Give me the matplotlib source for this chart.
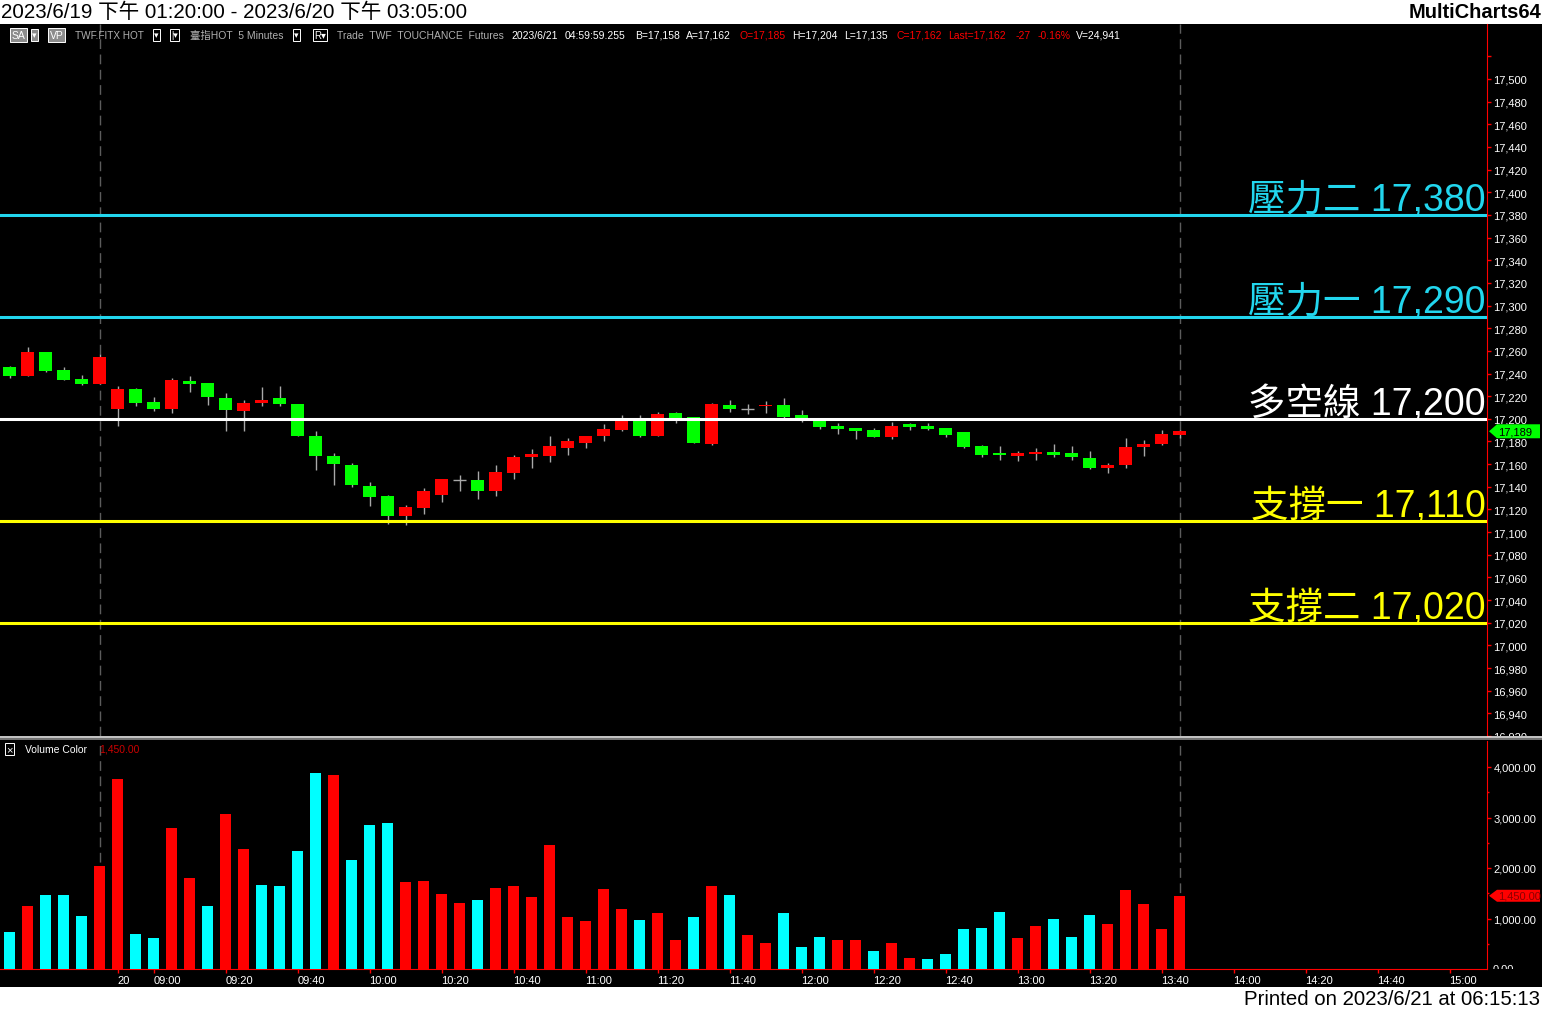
import matplotlib
matplotlib.use("Agg")
import matplotlib.pyplot as plt
from matplotlib.patches import Rectangle, Polygon
from matplotlib.lines import Line2D
from matplotlib.ticker import FuncFormatter
from matplotlib.transforms import Bbox, TransformedBbox
import numpy as np

plt.rcParams['font.family'] = ['Liberation Sans', 'Noto Sans CJK TC', 'DejaVu Sans']

# ---- 台指期 5 分K: 2023/6/19 13:20 ~ 2023/6/20 13:45 ----
opens = [17246, 17238, 17259, 17243, 17235, 17231, 17209, 17226, 17215, 17209,
         17233, 17232, 17218, 17207, 17214, 17218, 17213, 17185, 17167, 17159,
         17141, 17132, 17114, 17121, 17133, 17146, 17146, 17136, 17152, 17166,
         17167, 17174, 17179, 17185, 17190, 17199, 17185, 17205, 17202, 17178,
         17212, 17209, 17211, 17212, 17203, 17199, 17194, 17192, 17190, 17184,
         17195, 17194, 17192, 17188, 17176, 17170, 17167, 17169, 17171, 17170,
         17165, 17157, 17159, 17175, 17178, 17186]
highs = [17247, 17263, 17259, 17246, 17239, 17257, 17229, 17227, 17219, 17236,
         17238, 17232, 17223, 17217, 17228, 17229, 17213, 17189, 17170, 17161,
         17144, 17133, 17124, 17139, 17147, 17150, 17154, 17159, 17168, 17173,
         17185, 17183, 17185, 17195, 17203, 17203, 17206, 17206, 17202, 17214,
         17217, 17213, 17216, 17218, 17208, 17201, 17196, 17192, 17192, 17197,
         17196, 17196, 17192, 17188, 17177, 17176, 17172, 17174, 17178, 17176,
         17172, 17161, 17183, 17181, 17190, 17190]
lows = [17236, 17238, 17241, 17234, 17230, 17231, 17194, 17211, 17207, 17205,
        17224, 17212, 17189, 17189, 17211, 17211, 17185, 17155, 17142, 17140,
        17123, 17107, 17106, 17116, 17127, 17136, 17129, 17132, 17147, 17157,
        17162, 17168, 17174, 17180, 17189, 17184, 17185, 17196, 17179, 17177,
        17206, 17204, 17205, 17201, 17197, 17191, 17187, 17182, 17184, 17182,
        17190, 17190, 17184, 17174, 17166, 17164, 17163, 17164, 17166, 17164,
        17156, 17152, 17157, 17167, 17177, 17183]
closes = [17238, 17259, 17242, 17234, 17231, 17255, 17226, 17214, 17209, 17234,
          17231, 17219, 17208, 17214, 17217, 17213, 17185, 17167, 17160, 17142,
          17131, 17114, 17122, 17136, 17147, 17146, 17136, 17153, 17166, 17169,
          17176, 17180, 17185, 17191, 17199, 17185, 17204, 17201, 17179, 17213,
          17209, 17209, 17212, 17202, 17201, 17193, 17191, 17189, 17184, 17194,
          17193, 17191, 17186, 17175, 17168, 17168, 17170, 17171, 17168, 17166,
          17157, 17159, 17175, 17178, 17187, 17189]

volumes = [727, 1242, 1459, 1459, 1044, 2034, 3756, 687, 608, 2786,
           1796, 1242, 3063, 2370, 1657, 1638, 2331, 3875, 3836, 2152,
           2846, 2885, 1717, 1737, 1479, 1301, 1360, 1598, 1638, 1420,
           2450, 1024, 945, 1578, 1182, 964, 1103, 568, 1024, 1638,
           1459, 667, 509, 1103, 430, 628, 568, 568, 350, 509,
           212, 192, 291, 786, 806, 1123, 608, 846, 984, 628,
           1063, 885, 1558, 1281, 786, 1450]
# 1 = 紅 (外盤), 0 = 青 (內盤)
vol_up = [0, 1, 0, 0, 0, 1, 1, 0, 0, 1, 1, 0, 1, 1, 0, 0, 0, 0, 1, 0,
          0, 0, 1, 1, 1, 1, 0, 1, 1, 1, 1, 1, 1, 1, 1, 0, 1, 1, 0, 1,
          0, 1, 1, 0, 0, 0, 1, 1, 0, 1, 1, 0, 0, 0, 0, 0, 1, 1, 0, 0,
          0, 1, 1, 1, 1, 1]

# x 軸: bar index -> label
tick_bars = [6, 8, 12, 16, 20, 24, 28, 32, 36, 40, 44, 48, 52, 56, 60, 64,
             68, 72, 76, 80]
tick_labels = ['20', '09:00', '09:20', '09:40', '10:00', '10:20', '10:40',
               '11:00', '11:20', '11:40', '12:00', '12:20', '12:40', '13:00',
               '13:20', '13:40', '14:00', '14:20', '14:40', '15:00']
session_end_bars = [5, 65]

# 壓力 / 支撐
levels = [17380, 17290, 17200, 17110, 17020]
level_names = ['壓力二', '壓力一', '多空線', '支撐一', '支撐二']
level_colors = ['#22d6ee', '#22d6ee', '#ffffff', '#ffff00', '#ffff00']

W, H = 1542, 1012


def fx(px):
    return px / W


def fy(py):
    return 1 - py / H


fig = plt.figure(figsize=(W / 100, H / 100), dpi=100, facecolor='black')

# white header / footer strips
fig.add_artist(Rectangle((0, fy(25)), 1, 25 / H, transform=fig.transFigure,
                         fc='white', ec='none', zorder=0))
fig.add_artist(Rectangle((0, 0), 1, 24 / H, transform=fig.transFigure,
                         fc='white', ec='none', zorder=0))
fig.text(fx(1), fy(12.5), '2023/6/19 下午 01:20:00 - 2023/6/20 下午 03:05:00',
         fontsize=14.8, color='black', va='center')
fig.text(fx(1541), fy(12.5), 'MultiCharts64', fontsize=14.5, fontweight='bold',
         color='black', va='center', ha='right')
fig.text(fx(1540), fy(1000), 'Printed on 2023/6/21 at 06:15:13', fontsize=14.7,
         color='black', va='center', ha='right')

x = np.arange(len(closes))
x_lo, x_hi = -0.53, 82.08
ppu = 340 / 300  # pixels per point

# ---- price panel ----
ax = fig.add_axes([0, fy(737), fx(1487), fy(25) - fy(737)])
ax.set_facecolor('black')
ax.set_xlim(x_lo, x_hi)
ax.set_ylim(17200 - (737 - 420) / ppu, 17200 + (420 - 25) / ppu)

for b in session_end_bars:
    ax.axvline(b, color='#5c5c5c', lw=1, ls=(0, (7, 4)), zorder=1)

wick_c = '#a8a8a8'
ax.vlines(x, lows, highs, color=wick_c, lw=1, zorder=2)
for i in range(len(closes)):
    o, c = opens[i], closes[i]
    if c == o:
        ax.hlines(c, i - 0.36, i + 0.36, color=wick_c, lw=1, zorder=3)
        continue
    col = '#ff0000' if c > o else '#00ff00'
    ax.bar(i, abs(c - o), bottom=min(o, c), width=0.72, color=col, zorder=3,
           linewidth=0)

for lv, name, col in zip(levels, level_names, level_colors):
    ax.axhline(lv, color=col, lw=2.2, zorder=5)
    ax.annotate(f'{name} {lv:,}', xy=(1, lv), xycoords=('axes fraction', 'data'),
                xytext=(-1, 5), textcoords='offset pixels', ha='right',
                va='baseline', fontsize=27, color=col, zorder=6)

for s in ['top', 'left', 'bottom']:
    ax.spines[s].set_visible(False)
ax.spines['right'].set_color('#ff0000')
ax.set_xticks([])
ax.yaxis.tick_right()
ax.set_yticks(np.arange(16920, 17521, 20))
ax.yaxis.set_major_formatter(FuncFormatter(
    lambda v, p: f'{v:,.0f}' if 16930 < v < 17510 else ''))
ax.tick_params(axis='y', direction='out', length=3, width=1, color='#ff0000',
               labelcolor='white', labelsize=8, pad=1.5)

# ---- volume panel ----
vax = fig.add_axes([0, fy(970), fx(1487), fy(742) - fy(970)])
vax.set_facecolor('black')
vax.set_xlim(x_lo, x_hi)
vax.set_ylim(0, (970 - 742) / 0.0505)
for b in session_end_bars:
    vax.axvline(b, color='#5c5c5c', lw=1, ls=(0, (7, 4)), zorder=1)
vax.bar(x, volumes, width=0.6, linewidth=0, zorder=3,
        color=['#ff0000' if u else '#00ffff' for u in vol_up])
for s in ['top', 'left']:
    vax.spines[s].set_visible(False)
vax.spines['right'].set_color('#ff0000')
vax.spines['bottom'].set_color('#ff0000')
vax.yaxis.tick_right()
vax.set_yticks([1000, 2000, 3000, 4000])
vax.set_yticks([500, 1500, 2500, 3500], minor=True)
vax.yaxis.set_major_formatter(FuncFormatter(lambda v, p: f'{v:,.2f}'))
vax.tick_params(axis='y', which='major', direction='out', length=3, width=1,
                color='#ff0000', labelcolor='white', labelsize=8, pad=1.5)
vax.tick_params(axis='y', which='minor', direction='out', length=1.5, width=1,
                color='#ff0000')
vax.set_xticks(tick_bars)
vax.set_xticklabels(tick_labels)
vax.tick_params(axis='x', direction='out', length=3, width=1, color='#ff0000',
                labelcolor='white', labelsize=8, pad=1.5)
for lab in vax.get_xticklabels():
    lab.set_ha('left')

# labels cut off at the panel edges
for axis, val, txt, top, bot in [(ax, 16920, '16,920', 25, 737),
                                 (vax, 0, '0.00', 742, 970)]:
    yd = H - axis.transData.transform((0, val))[1]
    t = fig.text(fx(1493), fy(yd), txt, color='white', fontsize=8, va='center')
    t.set_clip_box(TransformedBbox(Bbox([[fx(1488), fy(bot)], [1, fy(top)]]),
                                   fig.transFigure))
    t.set_clip_on(True)

# panel separator
fig.add_artist(Line2D([0, 1], [fy(738.3), fy(738.3)], transform=fig.transFigure,
                      color='#e8e8e8', lw=1.2))
fig.add_artist(Line2D([0, 1], [fy(740.3), fy(740.3)], transform=fig.transFigure,
                      color='#8a8a8a', lw=1.2))


def axis_marker(axis, value, text, fc, tc, h):
    yd = H - axis.transData.transform((0, value))[1]
    pts = [(1489, yd), (1497, yd - h), (1540, yd - h), (1540, yd + h), (1497, yd + h)]
    fig.add_artist(Polygon([(fx(px), fy(py)) for px, py in pts],
                           transform=fig.transFigure, fc=fc, ec='none'))
    fig.text(fx(1498), fy(yd), text, color=tc, fontsize=8, va='center')


axis_marker(ax, closes[-1], f'{closes[-1]:,}', '#00ff00', 'black', 7)
axis_marker(vax, volumes[-1], f'{volumes[-1]:,.2f}', '#ff0000', '#8a0000', 6)

# ---- info line ----
iy = fy(36)
gray = '#b0b0b0'
box = dict(boxstyle='square,pad=0.15', fc='#8c8c8c', ec='white', lw=0.7)
dbox = dict(boxstyle='square,pad=0.12', fc='black', ec='white', lw=0.7)
fig.text(fx(12), iy, 'SA', color='white', fontsize=7.5, va='center', bbox=box)
fig.text(fx(32), iy, '▾', color='white', fontsize=6.5, va='center', bbox=box)
fig.text(fx(50), iy, 'VP', color='white', fontsize=7.5, va='center', bbox=box)
fig.text(fx(75), iy, 'TWF.FITX HOT', color=gray, fontsize=7.2, va='center')
fig.text(fx(154), iy, '▾', color='white', fontsize=6.5, va='center', bbox=dbox)
fig.text(fx(171), iy, '|▾', color='white', fontsize=6.5, va='center', bbox=dbox)
fig.text(fx(190), iy, '臺指HOT  5 Minutes', color=gray, fontsize=7.5, va='center')
fig.text(fx(294), iy, '▾', color='white', fontsize=6.5, va='center', bbox=dbox)
fig.text(fx(314), iy, 'R▾', color='white', fontsize=7, va='center', bbox=dbox)
fig.text(fx(337), iy, 'Trade  TWF  TOUCHANCE  Futures', color=gray, fontsize=7.5,
         va='center')
info = [(511, '2023/6/21', 'white'), (565, '04:59:59.255', 'white'),
        (635, 'B=17,158', 'white'), (686, 'A=17,162', 'white'),
        (740, 'O=17,185', '#ff0000'), (792, 'H=17,204', 'white'),
        (844, 'L=17,135', 'white'), (896, 'C=17,162', '#ff0000'),
        (948, 'Last=17,162', '#ff0000'), (1016, '-27', '#ff0000'),
        (1038, '-0.16%', '#ff0000'), (1076, 'V=24,941', 'white')]
for px, t, c in info:
    fig.text(fx(px), iy, t, color=c, fontsize=7.5, va='center')

# volume legend
fig.text(fx(6), fy(750), '×', color='white', fontsize=8, va='center',
         bbox=dict(boxstyle='square,pad=0.1', fc='black', ec='white', lw=0.7))
fig.text(fx(25), fy(750), 'Volume Color', color='white', fontsize=7.5, va='center')
fig.text(fx(99), fy(750), f'{volumes[-1]:,.2f}', color='#cc0000', fontsize=7.5,
         va='center')

fig.savefig('out.png', dpi=100, facecolor='black')
